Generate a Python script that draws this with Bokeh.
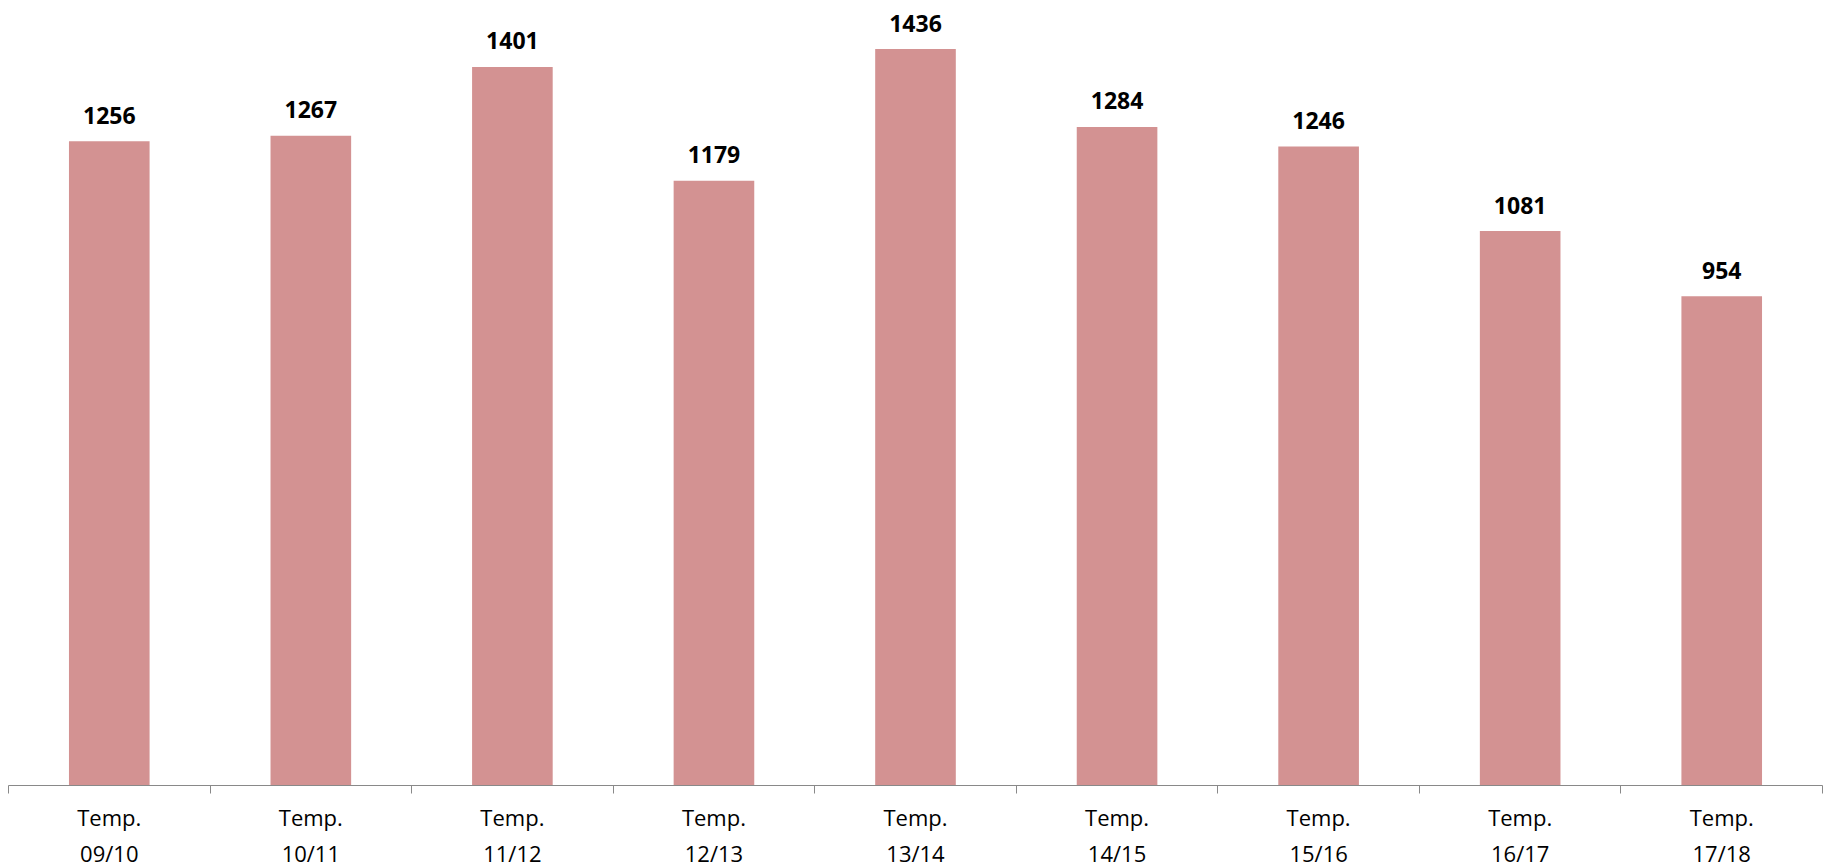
from bokeh.plotting import figure
from bokeh.models import ColumnDataSource, Range1d, FixedTicker
from bokeh.core.properties import value
from bokeh.embed import file_html
from bokeh.resources import INLINE

seasons = ["09/10", "10/11", "11/12", "12/13", "13/14", "14/15", "15/16", "16/17", "17/18"]
tick_labels = ["Temp.\n" + s for s in seasons]
counts = [1256, 1267, 1401, 1179, 1436, 1284, 1246, 1081, 954]

BAR_COLOR = "#D39292"
AXIS_COLOR = "#898989"

centers = [i + 0.5 for i in range(len(seasons))]
bounds = [float(i) for i in range(len(seasons) + 1)]

src = ColumnDataSource(data=dict(x=centers, y=counts, label=[str(c) for c in counts]))

p = figure(
    frame_width=1814, frame_height=777,
    x_range=Range1d(0, len(seasons)), y_range=Range1d(0, 1515),
    output_backend="svg", toolbar_location=None,
    min_border_left=8, min_border_right=3, min_border_top=8, min_border_bottom=0,
    background_fill_color="white", border_fill_color="white",
)
p.outline_line_color = None
p.grid.visible = False
p.yaxis.visible = False

p.vbar(x="x", top="y", width=0.4, bottom=0, source=src,
       fill_color=BAR_COLOR, line_color=None)

p.text(x="x", y="y", text="label", source=src,
       text_align="center", text_baseline="alphabetic", y_offset=-26,
       text_font=value("Open Sans"), text_font_style="bold",
       text_font_size="23px", text_color="black")

ax = p.xaxis[0]
ax.ticker = FixedTicker(ticks=centers, minor_ticks=bounds)
ax.major_label_overrides = {c: lab for c, lab in zip(centers, tick_labels)}
ax.major_tick_line_color = None
ax.major_tick_out = 0
ax.major_tick_in = 0
ax.minor_tick_line_color = AXIS_COLOR
ax.minor_tick_out = 8
ax.minor_tick_in = 0
ax.minor_tick_line_width = 1
ax.axis_line_color = AXIS_COLOR
ax.axis_line_width = 1
ax.major_label_text_font = "Open Sans"
ax.major_label_text_font_size = "22px"
ax.major_label_text_color = "black"
ax.major_label_text_line_height = 1.22
ax.major_label_standoff = 8

open("out.html", "w").write(file_html(p, INLINE))
